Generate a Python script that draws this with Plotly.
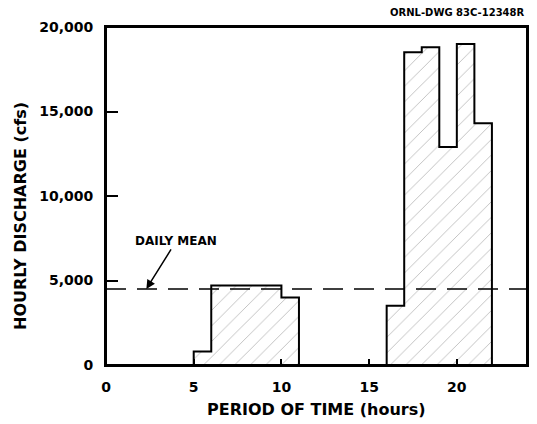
import plotly.graph_objects as go

# Hour starts (0..23) and hourly discharge values (cfs)
hours = list(range(0, 25))
discharge = [0, 0, 0, 0, 0, 800, 4700, 4700, 4700, 4700, 4000,
             0, 0, 0, 0, 0, 3500, 18500, 18800, 12900, 19000, 14300,
             0, 0]
discharge_step = discharge + [discharge[-1]]
daily_mean = 4500
x_ticks = [0, 5, 10, 15, 20]
y_ticks = [0, 5000, 10000, 15000, 20000]
y_tick_labels = ["0", "5,000", "10,000", "15,000", "20,000"]

FONT = "DejaVu Sans, Liberation Sans, Arial, sans-serif"

fig = go.Figure()
fig.add_trace(go.Scatter(
    x=hours, y=discharge_step, mode="lines", line_shape="hv",
    line=dict(color="black", width=2),
    fill="tozeroy", fillcolor="white",
    fillpattern=dict(shape="/", fgcolor="#666666", bgcolor="white",
                     size=11, solidity=0.07),
    showlegend=False, hoverinfo="skip"))

fig.add_shape(type="line", x0=0, x1=24, y0=daily_mean, y1=daily_mean,
              xref="x", yref="y",
              line=dict(color="black", width=1.5, dash="20px,11px"))

# plot frame
fig.add_shape(type="rect", x0=0, x1=1, y0=0, y1=1, xref="paper", yref="paper",
              line=dict(color="black", width=2), layer="above")

fig.add_annotation(x=2.3, y=daily_mean, xref="x", yref="y",
                   text="DAILY MEAN", showarrow=True, arrowhead=2,
                   arrowsize=1.2, arrowwidth=1.5, arrowcolor="black",
                   ax=30, ay=-48, standoff=0,
                   font=dict(family=FONT, size=12, color="black", weight="bold"))

fig.add_annotation(x=1, y=1, xref="paper", yref="paper",
                   xanchor="right", yanchor="middle", xshift=0, yshift=15,
                   text="ORNL-DWG 83C-12348R", showarrow=False,
                   font=dict(family=FONT, size=10, color="black", weight="bold"))

# Axis titles as annotations (positioned in paper coords)
fig.add_annotation(x=-0.23, y=0.44, xref="paper", yref="paper",
                   text="HOURLY DISCHARGE (cfs)", textangle=-90,
                   showarrow=False,
                   font=dict(family=FONT, size=16, color="black", weight="bold"))
fig.add_annotation(x=0.5, y=0, yshift=-44, xref="paper", yref="paper",
                   yanchor="middle",
                   text="PERIOD OF TIME (hours)", showarrow=False,
                   font=dict(family=FONT, size=16, color="black", weight="bold"))

fig.update_layout(
    width=529, height=416,
    margin=dict(l=98, r=10, t=19, b=59),
    paper_bgcolor="white", plot_bgcolor="white",
    font=dict(family=FONT, color="black"),
    xaxis=dict(range=[0, 24], tickvals=x_ticks, ticks="inside", ticklen=6,
               tickwidth=1.5, tickcolor="black", automargin=False,
               ticklabelstandoff=8,
               showline=True, linecolor="black", linewidth=2, mirror=True,
               showgrid=False, zeroline=False,
               tickfont=dict(family=FONT, size=14, weight="bold")),
    yaxis=dict(range=[0, 20000], tickvals=y_ticks, ticktext=y_tick_labels,
               ticks="inside", ticklen=12, tickwidth=1.5, tickcolor="black",
               automargin=False, ticklabelstandoff=8,
               showline=True, linecolor="black", linewidth=2, mirror=True,
               showgrid=False, zeroline=False,
               tickfont=dict(family=FONT, size=14, weight="bold")),
)

fig.write_html("out.html")
